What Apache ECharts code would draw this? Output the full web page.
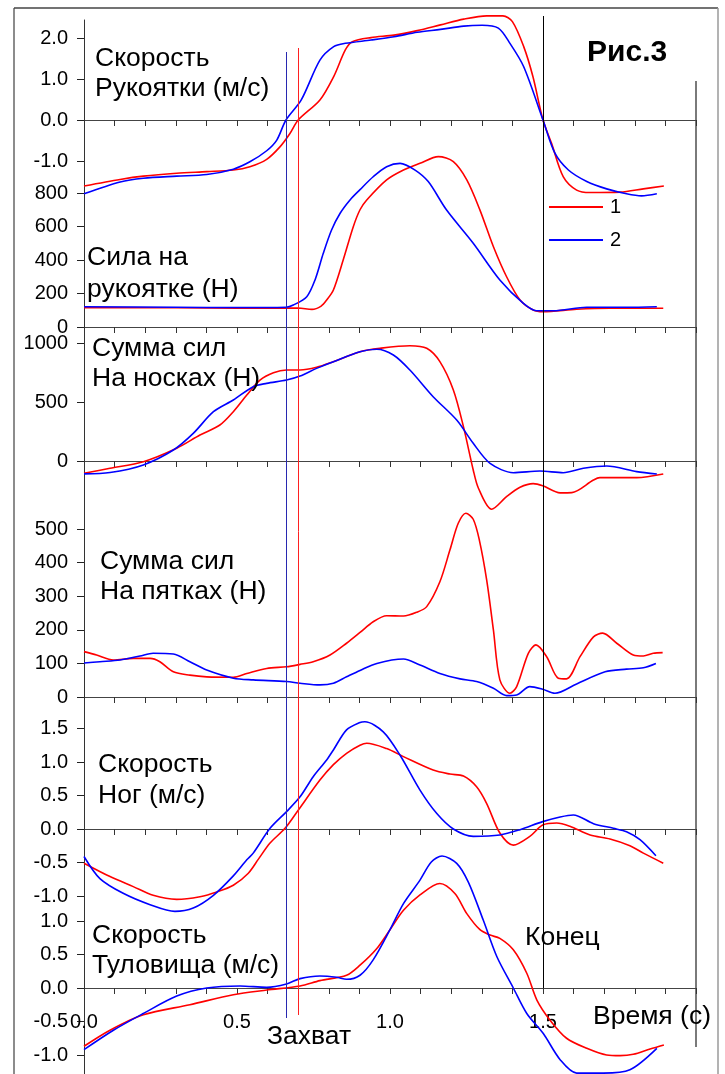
<!DOCTYPE html>
<html>
<head>
<meta charset="utf-8">
<script src="https://cdn.jsdelivr.net/npm/echarts@6/dist/echarts.min.js"></script>
<style>html,body{margin:0;padding:0;background:#fff}#c{width:725px;height:1074px}</style>
</head>
<body>
<div id="c"></div>
<script>
// ---------- DATA: [time (s), value] ----------
const timeTicks = [0, 0.5, 1.0, 1.5];
const captureTime1 = 0.70;   // red (1)
const captureTime2 = 0.66;   // blue (2)
const endTime = 1.5;

// Скорость рукоятки (м/с)
const handleSpeed1 = [[0,-1.61],[0.118,-1.45],[0.194,-1.37],[0.303,-1.30],[0.401,-1.26],[0.488,-1.22],[0.542,-1.14],[0.597,-0.96],[0.641,-0.65],[0.673,-0.33],[0.70,0.0],[0.771,0.49],[0.816,1.06],[0.854,1.71],[0.877,1.91],[0.938,2.01],[1.013,2.07],[1.089,2.18],[1.165,2.32],[1.241,2.46],[1.316,2.54],[1.369,2.54],[1.40,2.40],[1.437,1.79],[1.467,1.06],[1.50,0.0],[1.528,-0.57],[1.566,-1.38],[1.61,-1.71],[1.654,-1.77],[1.752,-1.76],[1.828,-1.68],[1.895,-1.61]];
const handleSpeed2 = [[0,-1.80],[0.118,-1.51],[0.194,-1.42],[0.303,-1.37],[0.401,-1.33],[0.488,-1.20],[0.542,-1.02],[0.597,-0.75],[0.630,-0.49],[0.66,0.0],[0.71,0.49],[0.771,1.46],[0.816,1.79],[0.854,1.87],[0.938,1.95],[1.013,2.03],[1.089,2.14],[1.165,2.21],[1.241,2.29],[1.301,2.31],[1.354,2.24],[1.392,1.87],[1.437,1.30],[1.50,0.0],[1.539,-0.81],[1.583,-1.22],[1.643,-1.50],[1.708,-1.68],[1.773,-1.80],[1.822,-1.85],[1.872,-1.80]];

// Сила на рукоятке (Н)
const handleForce1 = [[0,115],[0.2,115],[0.4,114],[0.6,112],[0.70,113],[0.745,105],[0.775,125],[0.793,161],[0.815,221],[0.847,400],[0.88,599],[0.902,700],[0.924,758],[0.989,878],[1.044,937],[1.098,977],[1.158,1017],[1.207,987],[1.251,878],[1.294,698],[1.338,479],[1.381,300],[1.425,161],[1.468,101],[1.50,91],[1.61,106],[1.719,112],[1.893,112]];
const handleForce2 = [[0,121],[0.3,118],[0.5,116],[0.66,118],[0.684,131],[0.728,181],[0.755,281],[0.782,440],[0.809,579],[0.837,679],[0.87,760],[0.902,820],[0.945,897],[0.989,957],[1.033,977],[1.082,937],[1.125,868],[1.185,698],[1.272,500],[1.359,281],[1.436,141],[1.479,97],[1.534,97],[1.643,118],[1.773,118],[1.872,121]];

// Сумма сил на носках (Н)
const toeForce1 = [[0,-104],[0.085,-62],[0.194,-6],[0.303,108],[0.379,220],[0.444,305],[0.488,418],[0.532,559],[0.575,686],[0.619,748],[0.662,771],[0.706,771],[0.760,794],[0.815,842],[0.902,926],[0.967,955],[1.065,977],[1.12,955],[1.163,842],[1.207,602],[1.24,291],[1.272,-76],[1.289,-231],[1.332,-409],[1.381,-302],[1.425,-223],[1.468,-192],[1.499,-210],[1.556,-270],[1.594,-268],[1.665,-161],[1.686,-141],[1.806,-141],[1.893,-110]];
const toeForce2 = [[0,-109],[0.085,-98],[0.194,-33],[0.292,93],[0.357,234],[0.423,418],[0.488,517],[0.553,630],[0.597,658],[0.662,686],[0.706,720],[0.760,785],[0.815,842],[0.902,926],[0.957,947],[1.011,898],[1.065,771],[1.141,545],[1.218,347],[1.272,150],[1.327,-20],[1.403,-99],[1.49,-85],[1.566,-99],[1.632,-62],[1.708,-42],[1.806,-90],[1.872,-110]];

// Сумма сил на пятках (Н)
const heelForce1 = [[0,135],[0.041,125],[0.096,110],[0.161,115],[0.216,115],[0.248,105],[0.292,75],[0.346,65],[0.401,60],[0.488,59],[0.532,70],[0.597,85],[0.662,90],[0.706,97],[0.749,105],[0.804,125],[0.858,160],[0.902,192],[0.945,224],[0.989,242],[1.044,241],[1.087,252],[1.12,269],[1.163,343],[1.196,438],[1.223,517],[1.248,547],[1.272,529],[1.292,467],[1.316,348],[1.338,199],[1.359,51],[1.392,11],[1.414,31],[1.452,130],[1.477,155],[1.512,120],[1.55,56],[1.577,54],[1.621,120],[1.665,179],[1.695,190],[1.741,160],[1.795,125],[1.828,122],[1.86,130],[1.891,132]];
const heelForce2 = [[0,101],[0.052,105],[0.118,110],[0.183,122],[0.226,130],[0.292,128],[0.346,105],[0.401,80],[0.488,56],[0.553,51],[0.662,46],[0.706,41],[0.771,36],[0.815,41],[0.858,60],[0.902,79],[0.957,100],[1.044,113],[1.098,95],[1.163,70],[1.229,54],[1.283,46],[1.338,26],[1.381,4],[1.414,6],[1.457,31],[1.499,23],[1.539,11],[1.61,39],[1.703,75],[1.773,83],[1.828,87],[1.869,100]];

// Скорость ног (м/с)
const legSpeed1 = [[0,-0.51],[0.085,-0.71],[0.161,-0.86],[0.226,-0.99],[0.303,-1.05],[0.379,-1.01],[0.434,-0.94],[0.488,-0.84],[0.537,-0.66],[0.57,-0.45],[0.608,-0.21],[0.657,0.01],[0.70,0.28],[0.771,0.73],[0.815,0.96],[0.858,1.13],[0.902,1.25],[0.924,1.28],[0.989,1.20],[1.044,1.08],[1.141,0.88],[1.196,0.82],[1.24,0.79],[1.283,0.63],[1.316,0.38],[1.359,-0.06],[1.403,-0.24],[1.457,-0.11],[1.499,0.06],[1.545,0.09],[1.588,0.04],[1.654,-0.09],[1.719,-0.15],[1.784,-0.25],[1.828,-0.36],[1.893,-0.51]];
const legSpeed2 = [[0,-0.41],[0.052,-0.74],[0.128,-0.96],[0.216,-1.13],[0.297,-1.23],[0.357,-1.18],[0.423,-0.99],[0.488,-0.70],[0.532,-0.46],[0.553,-0.36],[0.608,0.01],[0.662,0.26],[0.706,0.48],[0.749,0.78],[0.793,1.03],[0.815,1.18],[0.858,1.48],[0.902,1.59],[0.918,1.60],[0.978,1.45],[1.033,1.10],[1.098,0.58],[1.153,0.23],[1.207,0.0],[1.272,-0.11],[1.359,-0.09],[1.425,-0.01],[1.499,0.11],[1.556,0.18],[1.599,0.21],[1.665,0.08],[1.73,0.01],[1.773,-0.04],[1.817,-0.16],[1.869,-0.40]];

// Скорость туловища (м/с)
const trunkSpeed1 = [[0,-0.87],[0.085,-0.63],[0.194,-0.40],[0.346,-0.25],[0.488,-0.10],[0.597,-0.03],[0.706,0.03],[0.771,0.11],[0.858,0.19],[0.902,0.34],[0.957,0.59],[1.0,0.87],[1.044,1.16],[1.098,1.39],[1.163,1.56],[1.212,1.41],[1.251,1.11],[1.294,0.87],[1.327,0.79],[1.359,0.74],[1.403,0.57],[1.447,0.22],[1.48,-0.18],[1.523,-0.48],[1.577,-0.75],[1.643,-0.90],[1.708,-1.00],[1.752,-1.01],[1.795,-0.99],[1.85,-0.91],[1.895,-0.85]];
const trunkSpeed2 = [[0,-0.92],[0.096,-0.63],[0.194,-0.38],[0.303,-0.12],[0.401,0.0],[0.51,0.03],[0.597,0.01],[0.662,0.06],[0.706,0.14],[0.771,0.18],[0.826,0.16],[0.858,0.13],[0.902,0.19],[0.945,0.42],[1.0,0.87],[1.044,1.26],[1.098,1.61],[1.135,1.88],[1.17,1.97],[1.218,1.86],[1.256,1.58],[1.305,1.01],[1.349,0.47],[1.403,0.0],[1.447,-0.38],[1.501,-0.68],[1.556,-1.07],[1.61,-1.27],[1.697,-1.27],[1.784,-1.22],[1.872,-0.90]];

// tick labels per panel
const ticksHandleSpeed = [-1, 0, 1, 2];
const ticksHandleForce = [0, 200, 400, 600, 800];
const ticksToe = [0, 500, 1000];
const ticksHeel = [0, 100, 200, 300, 400, 500];
const ticksLeg = [-1, -0.5, 0, 0.5, 1, 1.5];
const ticksTrunk = [-1, -0.5, 0, 0.5, 1];

// ---------- LAYOUT ----------
const FONT = '"Liberation Sans", Arial, sans-serif';
const RED = '#ff0000', BLUE = '#0000ff';
const panels = [
  {s1: handleSpeed1, s2: handleSpeed2, ticks: ticksHandleSpeed, dec: 1, zero: 120, scale: 41, min: -1.9, max: 2.44},
  {s1: handleForce1, s2: handleForce2, ticks: ticksHandleForce, dec: 0, zero: 327, scale: 0.1675, min: 0, max: 1030},
  {s1: toeForce1, s2: toeForce2, ticks: ticksToe, dec: 0, zero: 461, scale: 0.118, min: -420, max: 1150},
  {s1: heelForce1, s2: heelForce2, ticks: ticksHeel, dec: 0, zero: 697, scale: 0.336, min: 0, max: 590},
  {s1: legSpeed1, s2: legSpeed2, ticks: ticksLeg, dec: 1, zero: 829, scale: 67, min: -1.25, max: 2.0},
  {s1: trunkSpeed1, s2: trunkSpeed2, ticks: ticksTrunk, dec: 1, zero: 988, scale: 67, min: -1.28, max: 2.0}
];

const grid = [], xAxis = [], yAxis = [], series = [];
panels.forEach((p, i) => {
  const top = p.zero - p.max * p.scale;
  const height = (p.max - p.min) * p.scale;
  grid.push({left: 84, width: 612, top: top, height: height, outerBoundsMode: 'none', containLabel: false});
  xAxis.push({
    type: 'value', gridIndex: i, min: 0, max: 2, interval: 0.1,
    axisLine: {show: true, onZero: true, lineStyle: {color: '#444', width: 1}},
    axisTick: {show: true, length: 6, lineStyle: {color: '#333'}},
    axisLabel: {show: false},
    splitLine: {show: false}
  });
  yAxis.push({
    type: 'value', gridIndex: i, min: p.min, max: p.max,
    axisLine: {show: true, onZero: false, lineStyle: {color: '#333', width: 1}},
    axisTick: {show: true, customValues: p.ticks, length: 7, lineStyle: {color: '#222'}},
    axisLabel: {show: true, customValues: p.ticks, formatter: v => v.toFixed(p.dec), margin: 16,
      fontSize: 20, color: '#000', fontFamily: FONT},
    splitLine: {show: false}
  });
  [[p.s1, '1', RED], [p.s2, '2', BLUE]].forEach(([d, name, col]) => {
    series.push({
      type: 'line', name: name, xAxisIndex: i, yAxisIndex: i, data: d,
      symbol: 'none', smooth: 0.3, silent: true, clip: false,
      lineStyle: {color: col, width: 1.6}, itemStyle: {color: col}, z: 3
    });
  });
});

// time labels: a label-only axis whose grid ends at the bottom panel's zero line
{
  const gi = grid.length;
  const bottomPanel = panels[panels.length - 1];
  grid.push({left: 84, width: 612, top: bottomPanel.zero - 60, height: 60, outerBoundsMode: 'none'});
  xAxis.push({
    type: 'value', gridIndex: gi, min: 0, max: 2,
    axisLine: {show: false}, axisTick: {show: false}, splitLine: {show: false},
    axisLabel: {show: true, customValues: timeTicks, formatter: v => v.toFixed(1), margin: 24,
      fontSize: 20, color: '#000', fontFamily: FONT}
  });
  yAxis.push({type: 'value', gridIndex: gi, min: 0, max: 1, show: false});
}

// vertical marker lines in their own overlay grids
const markers = [
  {x: captureTime2, color: '#2828b0', top: 52, bottom: 1018},
  {x: captureTime1, color: '#ff2020', top: 48, bottom: 1015},
  {x: endTime, color: '#000', top: 16, bottom: 988}
];
markers.forEach(m => {
  const gi = grid.length;
  grid.push({left: 84, width: 612, top: m.top, height: m.bottom - m.top, outerBoundsMode: 'none'});
  xAxis.push({type: 'value', gridIndex: gi, min: 0, max: 2, show: false});
  yAxis.push({type: 'value', gridIndex: gi, min: 0, max: 1, show: false});
  series.push({
    type: 'line', xAxisIndex: gi, yAxisIndex: gi, data: [], silent: true, z: 2,
    markLine: {silent: true, symbol: 'none', label: {show: false}, animation: false,
      lineStyle: {color: m.color, width: 1, type: 'solid'}, data: [{xAxis: m.x}]}
  });
});

const txt = (x, y, text, extra) => ({
  type: 'text', x: x, y: y, silent: true, z: 10,
  style: Object.assign({text: text, font: '26.5px ' + FONT, fill: '#000', textVerticalAlign: 'top', lineHeight: 30}, extra || {})
});

const option = {
  animation: false,
  backgroundColor: '#fff',
  grid: grid, xAxis: xAxis, yAxis: yAxis, series: series,
  legend: {
    data: [{name: '1', icon: 'rect'}, {name: '2', icon: 'rect'}],
    orient: 'vertical', left: 549, top: 196, padding: 0,
    itemWidth: 54, itemHeight: 2, itemGap: 11,
    textStyle: {fontSize: 20, lineHeight: 22, color: '#000', fontFamily: FONT, padding: [0, 0, 0, 2]}
  },
  graphic: [
    {type: 'line', shape: {x1: 14, y1: 8, x2: 14, y2: 1074}, style: {stroke: '#8c8c8c', lineWidth: 2}, silent: true},
    {type: 'line', shape: {x1: 14, y1: 8, x2: 718, y2: 8}, style: {stroke: '#444', lineWidth: 1.5}, silent: true},
    {type: 'line', shape: {x1: 718, y1: 8, x2: 718, y2: 1074}, style: {stroke: '#9a9a9a', lineWidth: 1.5}, silent: true},
    {type: 'line', shape: {x1: 696, y1: 81, x2: 696, y2: 1047}, style: {stroke: '#7a7a7a', lineWidth: 2}, silent: true},
    txt(95, 44, 'Скорость\nРукоятки (м/с)'),
    txt(87, 242, 'Сила на\nрукоятке (Н)', {lineHeight: 32}),
    txt(92, 334, 'Сумма сил\nНа носках (Н)'),
    txt(100, 547, 'Сумма сил\nНа пятках (Н)'),
    txt(98, 749, 'Скорость\nНог (м/с)', {lineHeight: 31}),
    txt(92, 921, 'Скорость\nТуловища (м/с)'),
    txt(267, 1037, 'Захват', {textVerticalAlign: 'middle'}),
    txt(525, 938, 'Конец', {textVerticalAlign: 'middle'}),
    txt(593, 1017, 'Время (с)', {textVerticalAlign: 'middle'}),
    txt(587, 52.5, 'Рис.3', {textVerticalAlign: 'middle', font: 'bold 30px ' + FONT})
  ]
};

const chart = echarts.init(document.getElementById('c'), null, {renderer: 'canvas'});
chart.setOption(option);
</script>
</body>
</html>
